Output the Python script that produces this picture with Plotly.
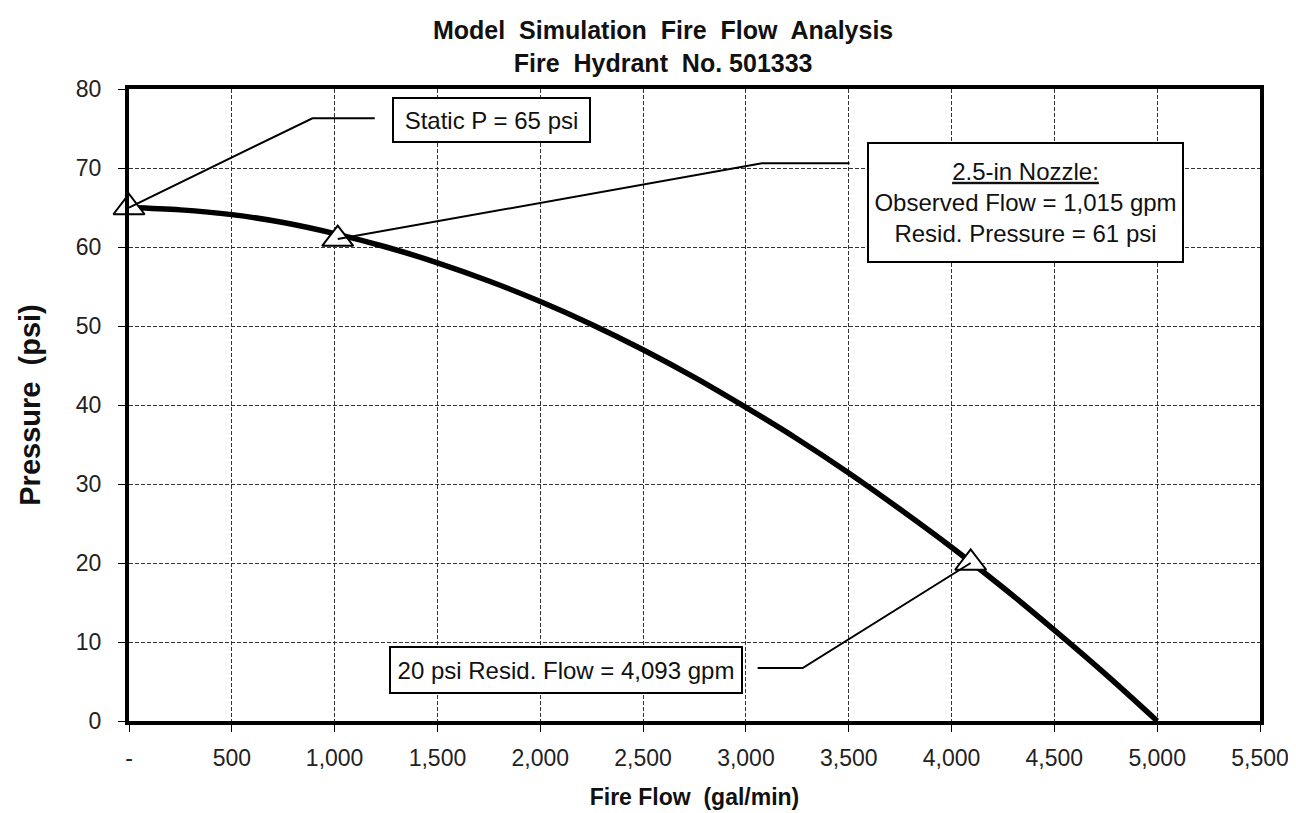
import plotly.graph_objects as go

# ---- data ----
flow_gpm = [0, 250, 500, 750, 1000, 1250, 1500, 1750, 2000, 2250, 2500,
            2750, 3000, 3250, 3500, 3750, 4000, 4250, 4500, 4750, 5000]
pressure_psi = [65.0, 64.7, 64.1, 63.1, 61.7, 60.0, 58.0, 55.7, 53.1, 50.2, 47.0,
                43.5, 39.7, 35.7, 31.4, 26.8, 22.0, 16.9, 11.5, 5.9, 0.0]

point_flow = [0, 1015, 4093]
point_pressure = [65, 61, 20]

x_tickvals = [0, 500, 1000, 1500, 2000, 2500, 3000, 3500, 4000, 4500, 5000, 5500]
x_ticktext = ["-", "500", "1,000", "1,500", "2,000", "2,500", "3,000",
              "3,500", "4,000", "4,500", "5,000", "5,500"]
y_tickvals = [0, 10, 20, 30, 40, 50, 60, 70, 80]

title_lines = ["Model  Simulation  Fire  Flow  Analysis", "Fire  Hydrant  No. 501333"]

callout_texts = [
    "Static P = 65 psi",
    "<u>2.5-in Nozzle:</u><br>Observed Flow = 1,015 gpm<br>Resid. Pressure = 61 psi",
    "20 psi Resid. Flow = 4,093 gpm",
]
# label placement (layout): box centre, leader kink, leader end, box size in px
callout_box_xy = [(1763, 76.1), (4358, 65.6), (2123, 6.5)]
callout_kink = [(892, 76.3), (3078, 70.6), (3276, 6.7)]
callout_end = [(1195, 76.3), (3504, 70.6), (3057, 6.7)]
callout_size = [(193, 40), (311, 115), (348, 42)]

FONT = "Liberation Sans, Arial, sans-serif"

fig = go.Figure()

# leader lines
shapes = []
for (px, py), (kx, ky), (ex, ey) in zip(zip(point_flow, point_pressure), callout_kink, callout_end):
    shapes.append(dict(type="path", xref="x", yref="y",
                       path=f"M {px},{py} L {kx},{ky} L {ex},{ey}",
                       line=dict(color="black", width=2), layer="above"))

fig.add_trace(go.Scatter(
    x=flow_gpm, y=pressure_psi, mode="lines",
    line=dict(color="black", width=5.5, shape="spline"),
    hoverinfo="skip", showlegend=False))

fig.add_trace(go.Scatter(
    x=point_flow, y=point_pressure, mode="markers",
    marker=dict(symbol="triangle-up", size=27, color="white",
                line=dict(color="black", width=2)),
    cliponaxis=False, showlegend=False))

annotations = []
for txt, (bx, by), (w, h) in zip(callout_texts, callout_box_xy, callout_size):
    annotations.append(dict(
        x=bx, y=by, xref="x", yref="y", text=txt, showarrow=False,
        font=dict(family=FONT, size=24, color="#111"),
        bgcolor="white", bordercolor="black", borderwidth=2, borderpad=1,
        width=w, height=h, align="center", valign="middle"))

# chart title (two lines)
annotations.append(dict(
    x=0.472, y=1.0 + 75 / 632, xref="paper", yref="paper",
    xanchor="center", yanchor="top", showarrow=False,
    text="<b>" + "<br>".join(title_lines) + "</b>",
    font=dict(family=FONT, size=25, color="#111"), align="center"))

# page body adds an 8px offset, so the figure is sized to fit the window
fig.update_layout(
    width=1288, height=805,
    margin=dict(l=121, r=36, t=81, b=92),
    paper_bgcolor="white", plot_bgcolor="white",
    shapes=shapes, annotations=annotations,
    showlegend=False,
)

fig.update_xaxes(
    range=[0, 5500], tickvals=x_tickvals, ticktext=x_ticktext,
    automargin=False,
    showline=True, linecolor="black", linewidth=4, mirror=True,
    ticks="outside", ticklen=7, tickwidth=1, tickcolor="black",
    showgrid=True, gridcolor="#333", gridwidth=1, griddash="4px,2px",
    zeroline=False, ticklabelstandoff=6,
    tickfont=dict(family=FONT, size=23, color="#222"),
    title=dict(text="<b>Fire Flow  (gal/min)</b>", standoff=20,
               font=dict(family=FONT, size=23, color="#111")))

fig.update_yaxes(
    range=[0, 80], tickvals=y_tickvals,
    automargin=False,
    showline=True, linecolor="black", linewidth=4, mirror=True,
    ticks="outside", ticklen=7, tickwidth=1, tickcolor="black",
    showgrid=True, gridcolor="#333", gridwidth=1, griddash="4px,2px",
    zeroline=False, ticklabelstandoff=12,
    tickfont=dict(family=FONT, size=23, color="#222"),
    title=dict(text="<b>Pressure  (psi)</b>", standoff=28,
               font=dict(family=FONT, size=29, color="#111")))

fig.write_html("out.html")
